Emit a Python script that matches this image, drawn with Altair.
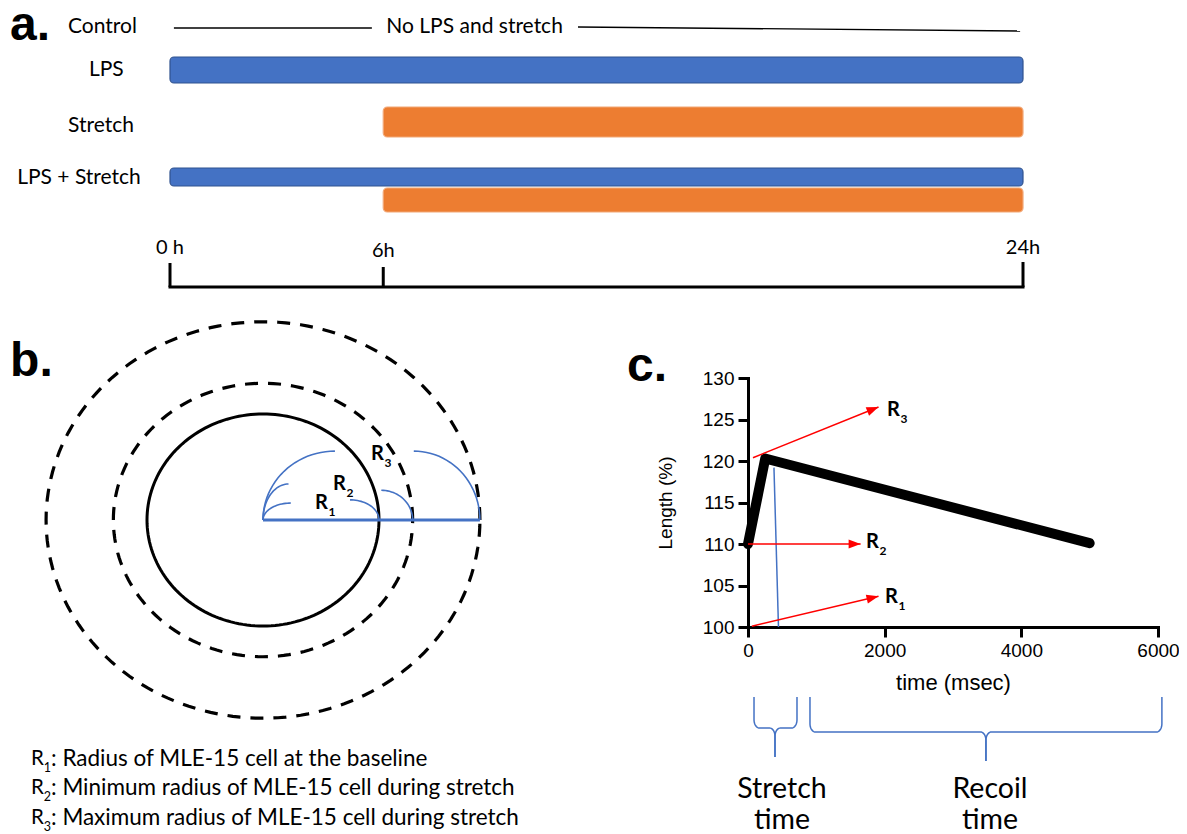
import math
import altair as alt
import pandas as pd

# ======================= DATA =======================
# (a) Treatment protocol, hours
ROW_LABELS = ["Control", "LPS", "Stretch", "LPS + Stretch"]
CONTROL_NOTE = "No LPS and stretch"
BAR_ROW = ["LPS", "Stretch", "LPS + Stretch", "LPS + Stretch"]
BAR_AGENT = ["LPS", "Stretch", "LPS", "Stretch"]
BAR_START_H = [0, 6, 0, 6]
BAR_END_H = [24, 24, 24, 24]
TIMELINE_H = [0, 24]
TICK_H = [0, 6, 24]
TICK_LABELS = ["0 h", "6h", "24h"]

# (b) Cell radii relative to the baseline radius R1
RADIUS_SUBS = ["1", "2", "3"]
RADIUS_REL = [1.0, 1.29, 1.87]
RADIUS_TEXT = [
    ": Radius of MLE-15 cell at the baseline",
    ": Minimum radius of MLE-15 cell during stretch",
    ": Maximum radius of MLE-15 cell during stretch",
]

# (c) Length trace of one stretch / recoil cycle
TRACE_MS = [0, 252, 5000]
TRACE_PCT = [110.0, 120.3, 110.1]
MARKER_MS = [380, 446]
MARKER_PCT = [119.2, 100.0]
ARROW_SUBS = ["3", "2", "1"]
ARROW_FROM_MS = [73, 0, 56]
ARROW_FROM_PCT = [120.4, 110.0, 100.1]
ARROW_TO_MS = [1910, 1648, 1910]
ARROW_TO_PCT = [126.5, 110.0, 103.7]
PHASE_NAMES = ["Stretch", "Recoil"]
PHASE_START_MS = [88, 907]
PHASE_END_MS = [717, 6057]
PHASE_SPLIT_MS = [395, 3482]
X_TICKS_MS = [0, 2000, 4000, 6000]
Y_TICKS_PCT = [100, 105, 110, 115, 120, 125, 130]

# ======================= LAYOUT / STYLE =======================
W, H = 1171, 826
SANS = "Lato"
ARIAL = "Liberation Sans"
BLUE, BLUE_EDGE = "#4472C4", "#2F528F"
ORANGE, ORANGE_EDGE = "#ED7D31", "#F2A877"
RED = "#FF0000"

# panel a: x in hours, y in layout units below the Control line
A_XS = alt.Scale(domain=[0, 24], range=[162, 1015], nice=False, zero=False)
A_YS = alt.Scale(domain=[0, 260], range=[19, 279], nice=False, zero=False)
BAR_TOP = [30, 80, 141, 161]
BAR_BOTTOM = [56, 110, 159, 185]
ROW_LABEL_X = [-2.87, -2.28, -2.87, -4.30]
ROW_LABEL_Y = [0, 43, 99, 151]
NOTE_X, NOTE_Y = 8.57, 0
CTRL_SEG_X = [0.11, 11.48]
CTRL_SEG_X2 = [5.68, 23.92]
CTRL_SEG_Y = [1, 0]
CTRL_SEG_Y2 = [1, 4]
TICK_TOP = [236, 240, 235]
TICK_LABEL_Y = [221, 224, 221]
AXIS_Y = 260
A_TAG = (-4.5, 13)

# panel b: x, y in units of R1 (x and y scaled separately -> slightly elliptic)
B_XS = alt.Scale(domain=[0, 1], range=[255, 371], nice=False, zero=False)
B_YS = alt.Scale(domain=[0, 1], range=[512, 406], nice=False, zero=False)
LEFT_ARCS = [(0.24, 0.24, 0.16), (0.22, 0.22, 0.34), (0.62, 0.62, 0.65)]
RIGHT_ARCS = [(0.75, 0.19), (1.02, 0.28), (1.30, 0.65)]
B_LABEL_U = [0.448, 0.603, 0.93]
B_LABEL_V = [0.156, 0.335, 0.618]
LEGEND_U = -2.0
LEGEND_V = [-2.255, -2.528, -2.81]
B_TAG = (-2.18, 1.358)

# panel c
C_XS = alt.Scale(domain=[0, 6000], range=[740, 1150], nice=False, zero=False)
C_YS = alt.Scale(domain=[100, 130], range=[619, 370], nice=False, zero=False)
PX_MS = (1150 - 740) / 6000
PX_PCT = (619 - 370) / 30
ARROW_LABEL_MS = [2034, 1726, 2005]
ARROW_LABEL_PCT = [126.1, 110.2, 103.6]
BRACE_TOP = [91.57, 91.57]
BRACE_MID = [87.83, 87.35]
BRACE_TIP = [84.34, 83.86]
BRACE_RX, BRACE_RY = 80, 1.0
PHASE_TEXT_MS = [497, 3541]
PHASE_TEXT_PCT = [80.5, 76.8]
C_TAG = (-1771, 129.64)

C_XAXIS = alt.Axis(values=X_TICKS_MS, orient="bottom", offset=-(H - 619), title="time (msec)",
                   format="d", grid=False, domainColor="black", domainWidth=3, domainCap="square",
                   tickColor="black", tickWidth=3, tickSize=10, labelFont=ARIAL, labelFontSize=19,
                   labelColor="black", labelPadding=4, labelFlush=False, titleFont=ARIAL,
                   titleFontSize=22, titleFontWeight="normal", titleColor="black", titlePadding=12)
C_YAXIS = alt.Axis(values=Y_TICKS_PCT, orient="left", offset=-740, title="Length (%)",
                   format="d", grid=False, domainColor="black", domainWidth=3, domainCap="square",
                   tickColor="black", tickWidth=3, tickSize=10, labelFont=ARIAL, labelFontSize=19,
                   labelColor="black", labelPadding=4, titleFont=ARIAL, titleFontSize=19,
                   titleFontWeight="normal", titleColor="black", titlePadding=27)


def arc(cx, cy, rx, ry, t0, t1, n=24):
    pts = []
    for k in range(n + 1):
        t = math.radians(t0 + (t1 - t0) * k / n)
        pts.append((cx + rx * math.cos(t), cy + ry * math.sin(t)))
    return pts


def ax(f):
    return alt.X(f, type="quantitative", scale=A_XS, axis=None)


def ay(f):
    return alt.Y(f, type="quantitative", scale=A_YS, axis=None)


def bx(f):
    return alt.X(f, type="quantitative", scale=B_XS, axis=None)


def by(f):
    return alt.Y(f, type="quantitative", scale=B_YS, axis=None)


def cx(f):
    return alt.X(f, type="quantitative", scale=C_XS, axis=C_XAXIS)


def cy(f):
    return alt.Y(f, type="quantitative", scale=C_YS, axis=C_YAXIS)


# ======================= PANEL A =======================
bars = pd.DataFrame({"row": BAR_ROW, "agent": BAR_AGENT, "start": BAR_START_H, "end": BAR_END_H,
                     "top": BAR_TOP, "bottom": BAR_BOTTOM})
a_bars = alt.Chart(bars).mark_rect(cornerRadius=4, strokeWidth=1.2).encode(
    x=ax("start"), x2="end", y=ay("top"), y2="bottom",
    fill=alt.Fill("agent:N", scale=alt.Scale(domain=["LPS", "Stretch"], range=[BLUE, ORANGE]), legend=None),
    stroke=alt.Stroke("agent:N", scale=alt.Scale(domain=["LPS", "Stretch"], range=[BLUE_EDGE, ORANGE_EDGE]),
                      legend=None),
)
rows = pd.DataFrame({"t": ROW_LABELS, "x": ROW_LABEL_X, "y": ROW_LABEL_Y})
a_rows = alt.Chart(rows).mark_text(align="left", baseline="middle", font=SANS, fontSize=21,
                                   color="black").encode(x=ax("x"), y=ay("y"), text="t:N")
note = pd.DataFrame({"t": [CONTROL_NOTE], "x": [NOTE_X], "y": [NOTE_Y]})
a_note = alt.Chart(note).mark_text(align="center", baseline="middle", font=SANS, fontSize=21,
                                   color="black").encode(x=ax("x"), y=ay("y"), text="t:N")
ctrl = pd.DataFrame({"x": CTRL_SEG_X, "x2": CTRL_SEG_X2, "y": CTRL_SEG_Y, "y2": CTRL_SEG_Y2})
a_ctrl = alt.Chart(ctrl).mark_rule(color="black", strokeWidth=1.4).encode(
    x=ax("x"), x2="x2", y=ay("y"), y2="y2")
ticks = pd.DataFrame({"h": TICK_H, "top": TICK_TOP, "bot": [AXIS_Y] * 3, "lab": TICK_LABELS,
                      "ly": TICK_LABEL_Y})
a_ticks = alt.Chart(ticks).mark_rule(color="black", strokeWidth=3).encode(
    x=ax("h"), y=ay("top"), y2="bot")
a_ticklab = alt.Chart(ticks).mark_text(align="center", baseline="middle", font=SANS, fontSize=20,
                                       color="black").encode(x=ax("h"), y=ay("ly"), text="lab:N")
tl = pd.DataFrame({"x": [TIMELINE_H[0]], "x2": [TIMELINE_H[1]], "y": [AXIS_Y]})
a_axis = alt.Chart(tl).mark_rule(color="black", strokeWidth=3, strokeCap="square").encode(
    x=ax("x"), x2="x2", y=ay("y"))
a_tag = alt.Chart(pd.DataFrame({"t": ["a."], "x": [A_TAG[0]], "y": [A_TAG[1]]})).mark_text(
    align="left", baseline="alphabetic", font=ARIAL, fontSize=48, fontWeight="bold", color="black"
).encode(x=ax("x"), y=ay("y"), text="t:N")
panel_a = alt.layer(a_bars, a_ctrl, a_rows, a_note, a_ticks, a_ticklab, a_axis, a_tag)

# ======================= PANEL B =======================
circ = []
for k, r in enumerate(RADIUS_REL):
    for i, (u, v) in enumerate(arc(0, 0, r, r, 0, 360, 180)):
        circ.append({"name": "R" + RADIUS_SUBS[k], "i": i, "u": u, "v": v})
circ = pd.DataFrame(circ)
b_solid = alt.Chart(circ[circ["name"] == "R1"]).mark_line(color="black", strokeWidth=3).encode(
    x=bx("u"), y=by("v"), detail="name:N", order="i:Q")
b_dash = alt.Chart(circ[circ["name"] != "R1"]).mark_line(color="black", strokeWidth=3.2,
                                                        strokeDash=[13, 10]).encode(
    x=bx("u"), y=by("v"), detail="name:N", order="i:Q")
radius_line = pd.DataFrame({"u": [0], "u2": [RADIUS_REL[2]], "v": [0]})
b_radius = alt.Chart(radius_line).mark_rule(color=BLUE, strokeWidth=3).encode(x=bx("u"), x2="u2", y=by("v"))
arcs = []
for k, r in enumerate(RADIUS_REL):
    c0, rx0, ry0 = LEFT_ARCS[k]
    for i, (u, v) in enumerate(arc(c0, 0, rx0, ry0, 180, 90)):
        arcs.append({"id": f"L{k}", "i": i, "u": u, "v": v})
    c1, ry1 = RIGHT_ARCS[k]
    for i, (u, v) in enumerate(arc(c1, 0, r - c1, ry1, 90, 0)):
        arcs.append({"id": f"R{k}", "i": i, "u": u, "v": v})
arcs = pd.DataFrame(arcs)
b_arcs = alt.Chart(arcs).mark_line(color=BLUE, strokeWidth=1.6).encode(
    x=bx("u"), y=by("v"), detail="id:N", order="i:Q")
blab = pd.DataFrame({"r": ["R"] * 3, "s": RADIUS_SUBS, "u": B_LABEL_U, "v": B_LABEL_V})
b_lab = alt.Chart(blab).mark_text(align="left", baseline="middle", font=SANS, fontSize=20,
                                  fontWeight="bold", color="black").encode(x=bx("u"), y=by("v"), text="r:N")
b_sub = alt.Chart(blab).mark_text(align="left", baseline="middle", font=SANS, fontSize=12,
                                  fontWeight="bold", color="black", dx=13.5, dy=9).encode(
    x=bx("u"), y=by("v"), text="s:N")
leg = pd.DataFrame({"r": ["R"] * 3, "s": RADIUS_SUBS, "d": RADIUS_TEXT, "u": [LEGEND_U] * 3, "v": LEGEND_V})
b_leg_r = alt.Chart(leg).mark_text(align="left", baseline="middle", font=SANS, fontSize=20.5,
                                   color="black").encode(x=bx("u"), y=by("v"), text="r:N")
b_leg_s = alt.Chart(leg).mark_text(align="left", baseline="middle", font=SANS, fontSize=12.5,
                                   color="black", dx=12.8, dy=9).encode(x=bx("u"), y=by("v"), text="s:N")
b_leg_d = alt.Chart(leg).mark_text(align="left", baseline="middle", font=SANS, fontSize=22.5,
                                   color="black", dx=20).encode(x=bx("u"), y=by("v"), text="d:N")
b_tag = alt.Chart(pd.DataFrame({"t": ["b."], "u": [B_TAG[0]], "v": [B_TAG[1]]})).mark_text(
    align="left", baseline="alphabetic", font=ARIAL, fontSize=48, fontWeight="bold", color="black"
).encode(x=bx("u"), y=by("v"), text="t:N")
panel_b = alt.layer(b_dash, b_solid, b_arcs, b_radius, b_lab, b_sub, b_leg_r, b_leg_s, b_leg_d, b_tag)

# ======================= PANEL C =======================
trace = pd.DataFrame({"t": TRACE_MS, "L": TRACE_PCT, "i": range(len(TRACE_MS))})
c_trace = alt.Chart(trace).mark_line(color="black", strokeWidth=10, strokeCap="round",
                                     strokeJoin="round").encode(x=cx("t"), y=cy("L"), order="i:Q")
marker = pd.DataFrame({"t": [MARKER_MS[0]], "t2": [MARKER_MS[1]], "L": [MARKER_PCT[0]], "L2": [MARKER_PCT[1]]})
c_marker = alt.Chart(marker).mark_rule(color=BLUE, strokeWidth=1.5).encode(
    x=cx("t"), x2="t2", y=cy("L"), y2="L2")
angles = [math.degrees(math.atan2(-(b - a) * PX_PCT, (d - c) * PX_MS)) % 360
          for a, b, c, d in zip(ARROW_FROM_PCT, ARROW_TO_PCT, ARROW_FROM_MS, ARROW_TO_MS)]
arrows = pd.DataFrame({"t": ARROW_FROM_MS, "t2": ARROW_TO_MS, "L": ARROW_FROM_PCT, "L2": ARROW_TO_PCT,
                       "ang": angles})
c_arrow = alt.Chart(arrows).mark_rule(color=RED, strokeWidth=1.5).encode(
    x=cx("t"), x2="t2", y=cy("L"), y2="L2")
c_head = alt.Chart(arrows).mark_point(shape="M0,0L-2,-0.75L-2,0.75Z", filled=True, size=144,
                                      color=RED, opacity=1, strokeWidth=0).encode(
    x=cx("t2"), y=cy("L2"), angle=alt.Angle("ang:Q", scale=None))
clab = pd.DataFrame({"r": ["R"] * 3, "s": ARROW_SUBS, "t": ARROW_LABEL_MS, "L": ARROW_LABEL_PCT})
c_lab = alt.Chart(clab).mark_text(align="left", baseline="middle", font=SANS, fontSize=20,
                                  fontWeight="bold", color="black").encode(x=cx("t"), y=cy("L"), text="r:N")
c_sub = alt.Chart(clab).mark_text(align="left", baseline="middle", font=SANS, fontSize=12,
                                  fontWeight="bold", color="black", dx=13.5, dy=9).encode(
    x=cx("t"), y=cy("L"), text="s:N")
br = []
for k in range(len(PHASE_NAMES)):
    x0, x1, xm = PHASE_START_MS[k], PHASE_END_MS[k], PHASE_SPLIT_MS[k]
    top, mid, tip = BRACE_TOP[k], BRACE_MID[k], BRACE_TIP[k]
    rx, ry = BRACE_RX, BRACE_RY
    left = [(x0, top)] + arc(x0 + rx, mid + ry, rx, ry, 180, 270, 10) + \
        arc(xm - rx, mid - ry, rx, ry, 90, 0, 10) + [(xm, tip)]
    right = [(xm, tip)] + arc(xm + rx, mid - ry, rx, ry, 180, 90, 10) + \
        arc(x1 - rx, mid + ry, rx, ry, 270, 360, 10) + [(x1, top)]
    for side, pts in (("l", left), ("r", right)):
        for i, (u, v) in enumerate(pts):
            br.append({"id": f"{PHASE_NAMES[k]}{side}", "i": i, "t": u, "L": v})
br = pd.DataFrame(br)
c_brace = alt.Chart(br).mark_line(color=BLUE, strokeWidth=1.5).encode(
    x=cx("t"), y=cy("L"), detail="id:N", order="i:Q")
ptxt = []
for k, name in enumerate(PHASE_NAMES):
    ptxt.append({"txt": name, "t": PHASE_TEXT_MS[k], "L": PHASE_TEXT_PCT[0]})
    ptxt.append({"txt": "time", "t": PHASE_TEXT_MS[k], "L": PHASE_TEXT_PCT[1]})
c_ptxt = alt.Chart(pd.DataFrame(ptxt)).mark_text(align="center", baseline="middle", font=SANS,
                                                 fontSize=28.5, color="black").encode(
    x=cx("t"), y=cy("L"), text="txt:N")
c_tag = alt.Chart(pd.DataFrame({"txt": ["c."], "t": [C_TAG[0]], "L": [C_TAG[1]]})).mark_text(
    align="left", baseline="alphabetic", font=ARIAL, fontSize=48, fontWeight="bold", color="black"
).encode(x=cx("t"), y=cy("L"), text="txt:N")
panel_c = alt.layer(c_marker, c_trace, c_arrow, c_head, c_lab, c_sub, c_brace, c_ptxt, c_tag)

chart = alt.layer(panel_a, panel_b, panel_c).resolve_scale(x="independent", y="independent").properties(
    width=W, height=H, padding=0, autosize=alt.AutoSizeParams(type="none"), background="white"
).configure_view(stroke=None)

chart.save("out.html", embed_options={"renderer": "svg", "actions": False})
